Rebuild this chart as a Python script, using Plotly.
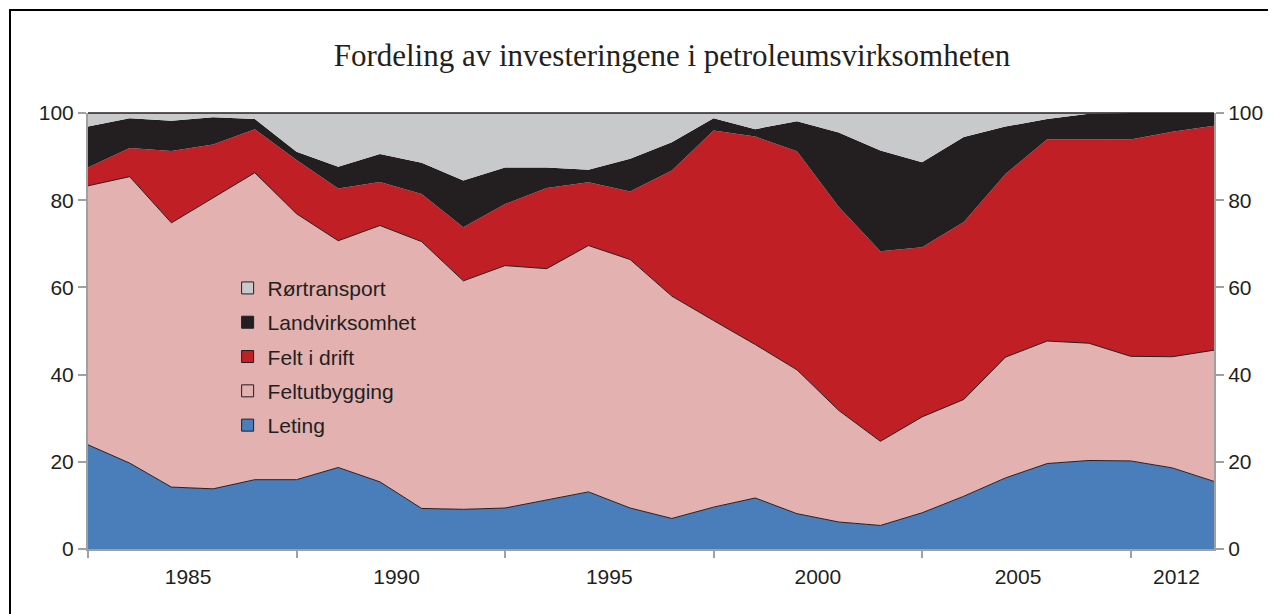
import plotly.graph_objects as go

# years on the category axis (28 yearly points)
years = list(range(1985, 2013))

# shares in percent
leting = [23.9, 19.7, 14.2, 13.8, 15.9, 15.9, 18.7, 15.4, 9.3, 9.1, 9.4, 11.3, 13.1, 9.4,
          7.0, 9.6, 11.7, 8.1, 6.2, 5.4, 8.3, 12.1, 16.3, 19.6, 20.3, 20.2, 18.6, 15.5]
feltutbygging = [59.4, 65.7, 60.6, 66.8, 70.4, 61.0, 52.0, 58.8, 61.2, 52.4, 55.6, 53.0, 56.5, 57.0,
                 51.0, 42.8, 35.2, 33.0, 25.6, 19.3, 22.0, 22.2, 27.7, 28.1, 26.9, 24.0, 25.5, 30.1]
felt_i_drift = [4.2, 6.6, 16.5, 12.2, 10.0, 12.3, 12.0, 10.0, 10.9, 12.3, 14.1, 18.5, 14.5, 15.6,
                28.8, 43.6, 47.7, 50.1, 46.7, 43.6, 38.9, 40.7, 42.0, 46.3, 46.8, 49.7, 51.6, 51.5]
landvirksomhet = [9.4, 6.8, 6.9, 6.2, 2.3, 1.9, 5.0, 6.4, 7.2, 10.7, 8.4, 4.7, 2.9, 7.5,
                  6.5, 2.8, 1.7, 6.9, 17.0, 23.1, 19.5, 19.5, 10.9, 4.6, 5.8, 6.1, 4.3, 2.9]
rortransport = [3.1, 1.2, 1.8, 1.0, 1.4, 8.9, 12.3, 9.4, 11.4, 15.5, 12.5, 12.5, 13.0, 10.5,
                6.7, 1.2, 3.7, 1.9, 4.5, 8.6, 11.3, 5.5, 3.1, 1.4, 0.2, 0.0, 0.0, 0.0]

# x-axis labels as printed in the chart
tick_labels = ["1985", "1990", "1995", "2000", "2005", "2012"]
label_pos = [1987.4, 1992.4, 1997.5, 2002.5, 2007.3, 2011.1]

series = [
    ("Leting", leting, "#4a7ebb", 1),
    ("Feltutbygging", feltutbygging, "#e2b1b0", 1),
    ("Felt i drift", felt_i_drift, "#c01f26", 0),
    ("Landvirksomhet", landvirksomhet, "#231f20", 0),
    ("Rørtransport", rortransport, "#c8c9cb", 0),
]

dark = "#231f20"
axgrey = "#a0a0a0"
font_sans = "Liberation Sans, Arial, sans-serif"

# page has an 8px body margin, so the figure is drawn a bit smaller
W, H = 1268, 606
L, T, R, B = 80, 105, 62, 65
pw, ph = W - L - R, H - T - B

fig = go.Figure()
for name, vals, col, lw in series:
    fig.add_trace(go.Scatter(
        x=years, y=vals, name=name, stackgroup="one", mode="lines",
        line=dict(color=dark if lw else col, width=lw),
        fillcolor=col, showlegend=False, hoverinfo="x+y+name",
    ))

# square legend entries (top to bottom as in the reference)
for name, vals, col, lw in series[::-1]:
    fig.add_trace(go.Scatter(
        x=[None], y=[None], name=name, mode="markers", yaxis="y2",
        legendgroup=name,
        marker=dict(symbol="square", size=12, color=col, line=dict(color=dark, width=1)),
    ))

fig.update_layout(
    width=W, height=H,
    margin=dict(l=L, r=R, t=T, b=B),
    paper_bgcolor="white", plot_bgcolor="white",
    title=dict(text="Fordeling av investeringene i petroleumsvirksomheten",
               x=(672 - 8) / W, xref="container", xanchor="center",
               y=1 - (55 - 8) / H, yref="container", yanchor="middle",
               font=dict(family="Liberation Serif, Times New Roman, serif", size=31, color=dark)),
    font=dict(family=font_sans, size=21, color=dark),
    legend=dict(x=0.124, y=0.645, xanchor="left", yanchor="top",
                bgcolor="rgba(0,0,0,0)", traceorder="grouped", tracegroupgap=4,
                font=dict(family=font_sans, size=21, color=dark)),
    xaxis=dict(range=[years[0], years[-1]], showgrid=False, zeroline=False,
               showline=True, linecolor=axgrey, linewidth=2,
               tickvals=label_pos, ticktext=tick_labels, ticks="", ticklabelstandoff=8,
               minor=dict(tickvals=list(range(1985, 2013, 5)), ticks="outside",
                          ticklen=7, tickwidth=2, tickcolor=axgrey, showgrid=False)),
    yaxis=dict(range=[0, 100], dtick=20, showgrid=False, zeroline=False,
               showline=True, linecolor=axgrey, linewidth=2,
               ticks="outside", ticklen=8, tickwidth=2, tickcolor=axgrey),
    yaxis2=dict(range=[0, 100], dtick=20, overlaying="y", side="right", anchor="x",
                showgrid=False, zeroline=False, showline=True, linecolor=axgrey, linewidth=2,
                ticks="outside", ticklen=8, tickwidth=2, tickcolor=axgrey),
    shapes=[
        # dark top edge of the plot area
        dict(type="line", xref="paper", yref="paper", x0=0, x1=1, y0=1, y1=1,
             line=dict(color=dark, width=1.5)),
        # outer frame around the whole chart
        dict(type="rect", xref="paper", yref="paper",
             x0=(2 - L) / pw, x1=(1265 - L) / pw,
             y0=(T + ph - 640) / ph, y1=(T + ph - 2) / ph,
             line=dict(color="black", width=2)),
    ],
)

fig.write_html("out.html")
